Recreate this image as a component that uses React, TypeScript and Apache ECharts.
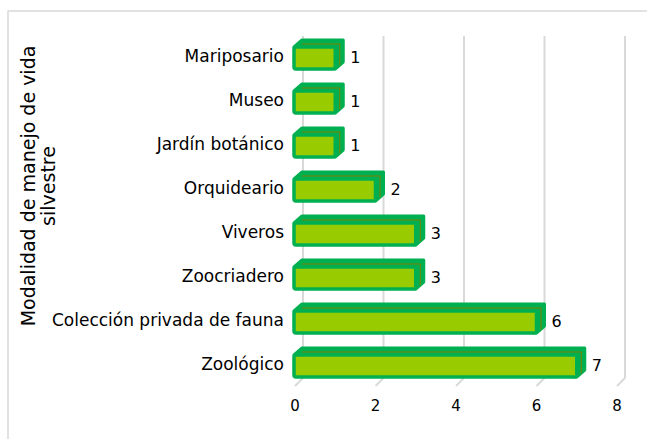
import React, { useEffect, useRef } from "react";
import * as echarts from "echarts";

const categories = [
  "Mariposario",
  "Museo",
  "Jardín botánico",
  "Orquideario",
  "Viveros",
  "Zoocriadero",
  "Colección privada de fauna",
  "Zoológico",
];
const values = [1, 1, 1, 2, 3, 3, 6, 7];
const xTicks = [0, 2, 4, 6, 8];
const axisTitleLines = ["Modalidad de manejo de vida", "silvestre"];

const FONT = "DejaVu Sans";
const DX = 8;
const DY = 7;

export default function App() {
  const ref = useRef<HTMLDivElement>(null);
  useEffect(() => {
    if (!ref.current) return;
    const chart = echarts.init(ref.current, null, { renderer: "svg" });
    chart.setOption({
      animation: false,
      backgroundColor: "#ffffff",
      grid: { left: 295, right: 30, top: 34, bottom: 53, containLabel: false },
      xAxis: {
        type: "value",
        min: 0,
        max: 8,
        interval: 2,
        splitLine: { show: false },
        axisLine: { show: false },
        axisTick: { show: false },
        axisLabel: { fontSize: 15, color: "#000", fontFamily: FONT, margin: 12 },
      },
      yAxis: {
        type: "category",
        data: categories,
        inverse: true,
        axisLine: { show: false },
        axisTick: { show: false },
        axisLabel: { fontSize: 17, color: "#000", fontFamily: FONT, margin: 11 },
      },
      graphic: [
        {
          type: "rect",
          shape: { x: 8, y: 11, width: 700, height: 500 },
          style: { fill: "none", stroke: "#d9d9d9", lineWidth: 1.5 },
          silent: true,
          z: -10,
        },
        {
          type: "text",
          x: 38,
          y: 186,
          rotation: Math.PI / 2,
          style: {
            text: axisTitleLines.join("\n"),
            fontSize: 19,
            fontFamily: FONT,
            fill: "#000",
            align: "center",
            verticalAlign: "middle",
            lineHeight: 20,
          },
        },
      ],
      series: [
        {
          type: "custom",
          coordinateSystem: "cartesian2d",
          data: xTicks.map((t) => [t, 0]),
          z: 1,
          silent: true,
          renderItem: (params: any, api: any) => {
            const cs = params.coordSys;
            const x = api.coord([api.value(0), 0])[0];
            const bottom = cs.y + cs.height;
            return {
              type: "group",
              children: [
                {
                  type: "line",
                  shape: { x1: x + DX, y1: cs.y + 2, x2: x + DX, y2: bottom - DY - 1 },
                  style: { stroke: "#d9d9d9", lineWidth: 2 },
                },
                {
                  type: "line",
                  shape: { x1: x + DX, y1: bottom - DY - 1, x2: x, y2: bottom },
                  style: { stroke: "#d9d9d9", lineWidth: 2 },
                },
              ],
            };
          },
        },
        {
          type: "custom",
          coordinateSystem: "cartesian2d",
          data: values.map((v, i) => [v, i]),
          z: 5,
          silent: true,
          renderItem: (params: any, api: any) => {
            const v = api.value(0);
            const ci = api.value(1);
            const p0 = api.coord([0, ci]);
            const p1 = api.coord([v, ci]);
            const band = api.size([0, 1])[1];
            const h = band * 0.5;
            const x0 = p0[0] - 1;
            const x1 = p1[0];
            const yt = p0[1] - h / 2 + 2;
            const yb = p0[1] + h / 2 + 2;
            const green = "#00b050";
            const olive = "#808000";
            return {
              type: "group",
              children: [
                {
                  type: "polygon",
                  shape: {
                    points: [
                      [x0, yt],
                      [x0 + DX, yt - DY],
                      [x1 + DX, yt - DY],
                      [x1 + DX, yb - DY],
                      [x1, yb],
                    ],
                  },
                  style: { fill: green, stroke: green, lineWidth: 3, lineJoin: "round" },
                },
                {
                  type: "polyline",
                  shape: {
                    points: [
                      [x0 + DX, yt - DY / 2 + 0.5],
                      [x1 + DX / 2 + 0.5, yt - DY / 2 + 0.5],
                      [x1 + DX / 2 + 0.5, yb - DY / 2],
                    ],
                  },
                  style: { fill: "none", stroke: olive, lineWidth: 1 },
                },
                {
                  type: "rect",
                  shape: { x: x0, y: yt, width: x1 - x0, height: yb - yt, r: 2 },
                  style: { fill: "#99cc00", stroke: green, lineWidth: 3.5 },
                },
                {
                  type: "text",
                  x: x1 + DX + 7,
                  y: (yt + yb) / 2 - 1,
                  style: {
                    text: String(v),
                    fontSize: 16,
                    fontFamily: FONT,
                    fill: "#000",
                    align: "left",
                    verticalAlign: "middle",
                  },
                },
              ],
            };
          },
        },
      ],
    });
    return () => chart.dispose();
  }, []);
  return (
    <div
      ref={ref}
      style={{ position: "fixed", left: 0, top: 0, width: 647, height: 439, background: "#fff" }}
    />
  );
}
